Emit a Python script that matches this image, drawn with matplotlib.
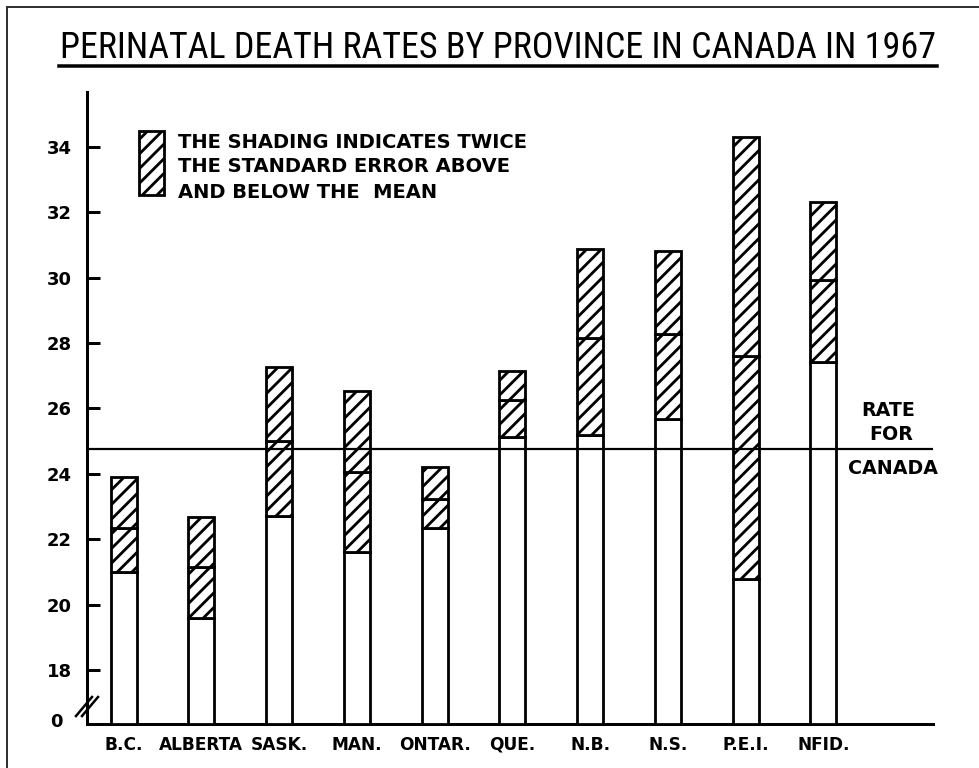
import matplotlib
matplotlib.use("Agg")
import matplotlib.pyplot as plt
from matplotlib.patches import Rectangle
from matplotlib.lines import Line2D

# perinatal death rates per 1000, 1967
provinces = ['B.C.', 'ALBERTA', 'SASK.', 'MAN.', 'ONTAR.', 'QUE.', 'N.B.', 'N.S.', 'P.E.I.', 'NFID.']
lower = [21.0, 19.6, 22.7, 21.6, 22.35, 25.13, 25.19, 25.68, 20.78, 27.42]
mean = [22.34, 21.15, 25.0, 24.06, 23.23, 26.26, 28.16, 28.28, 27.6, 29.93]
upper = [23.9, 22.68, 27.27, 26.53, 24.2, 27.15, 30.88, 30.82, 34.3, 32.32]
canada_rate = 24.77
yticks = [18, 20, 22, 24, 26, 28, 30, 32, 34]

W, H, DPI = 979, 768, 88
plt.rcParams['hatch.linewidth'] = 2.3
plt.rcParams['hatch.color'] = 'black'


def pt(px):
    return px * 72.0 / DPI


def fx(px):
    return px / W


def fy(py):
    return 1 - py / H


fig = plt.figure(figsize=(W / DPI, H / DPI), dpi=DPI)
ax = fig.add_axes([fx(87), fy(724), fx(933) - fx(87), fy(92) - fy(724)])
ybot = 16.35
ax.set_ylim(ybot, 35.68)
ax.set_xlim(-0.47, 10.41)

x = list(range(len(provinces)))
bw = 0.335
lw = pt(2.8)
ax.bar(x, [l - ybot for l in lower], bottom=ybot, width=bw, color='white', edgecolor='black', linewidth=lw, zorder=3)
ax.bar(x, [m - l for m, l in zip(mean, lower)], bottom=lower, width=bw, color='white',
       edgecolor='black', linewidth=lw, hatch='//', zorder=3)
ax.bar(x, [u - m for u, m in zip(upper, mean)], bottom=mean, width=bw, color='white',
       edgecolor='black', linewidth=lw, hatch='//', zorder=3)

ax.axhline(canada_rate, color='black', linewidth=pt(2.2), zorder=4)

for s in ['top', 'right']:
    ax.spines[s].set_visible(False)
ax.spines['left'].set_linewidth(pt(3))
ax.spines['bottom'].set_linewidth(pt(3))

lab_font = ['DejaVu Sans']
ax.set_yticks(yticks)
ax.set_yticklabels([str(t) for t in yticks], fontsize=pt(18), fontweight='bold', family=lab_font)
ax.tick_params(axis='y', direction='in', length=pt(13), width=pt(3), pad=pt(15))
ax.set_xticks(x)
ax.set_xticklabels(provinces, fontsize=pt(17), fontweight='bold', family=lab_font)
ax.tick_params(axis='x', length=0, pad=pt(12))

# axis break and zero label
for dx in (0, 6):
    fig.add_artist(Line2D([fx(76 + dx), fx(92 + dx)], [fy(716), fy(697)], color='black', linewidth=pt(2.5)))
fig.text(fx(63), fy(722), '0', ha='right', va='center', fontsize=pt(18), fontweight='bold', family=lab_font)

# title with underline, scaled to the width of the underline
title = fig.text(fx(498), fy(48), 'PERINATAL DEATH RATES BY PROVINCE IN CANADA IN 1967', ha='center', va='center',
                 fontsize=pt(34), fontstretch='condensed',
                 family=['Liberation Sans Narrow', 'Roboto Condensed', 'DejaVu Sans Condensed', 'Roboto'])
renderer = fig.canvas.get_renderer()
tw = title.get_window_extent(renderer).width
title.set_fontsize(title.get_fontsize() * 876 / tw)
fig.add_artist(Line2D([fx(59), fx(937)], [fy(66), fy(66)], color='black', linewidth=pt(3.5)))

# legend box
fig.add_artist(Rectangle((fx(139), fy(195)), fx(164) - fx(139), fy(131) - fy(195), transform=fig.transFigure,
                         facecolor='white', edgecolor='black', linewidth=lw, hatch='//'))
for txt, yy in [('THE SHADING INDICATES TWICE', 142), ('THE STANDARD ERROR ABOVE', 167),
                ('AND BELOW THE  MEAN', 192)]:
    fig.text(fx(178), fy(yy), txt, ha='left', va='center', fontsize=pt(19.5), fontweight='bold', family=lab_font)

for txt, xx, yy in [('RATE', 888, 410), ('FOR', 891, 435), ('CANADA', 893, 468)]:
    fig.text(fx(xx), fy(yy), txt, ha='center', va='center', fontsize=pt(19), fontweight='bold', family=lab_font)

# frame of the scanned page
fig.add_artist(Line2D([fx(7), fx(7)], [0, fy(7)], color='#333333', linewidth=pt(2)))
fig.add_artist(Line2D([fx(7), 1], [fy(7), fy(7)], color='#333333', linewidth=pt(2)))

fig.savefig('out.png', dpi=DPI)
